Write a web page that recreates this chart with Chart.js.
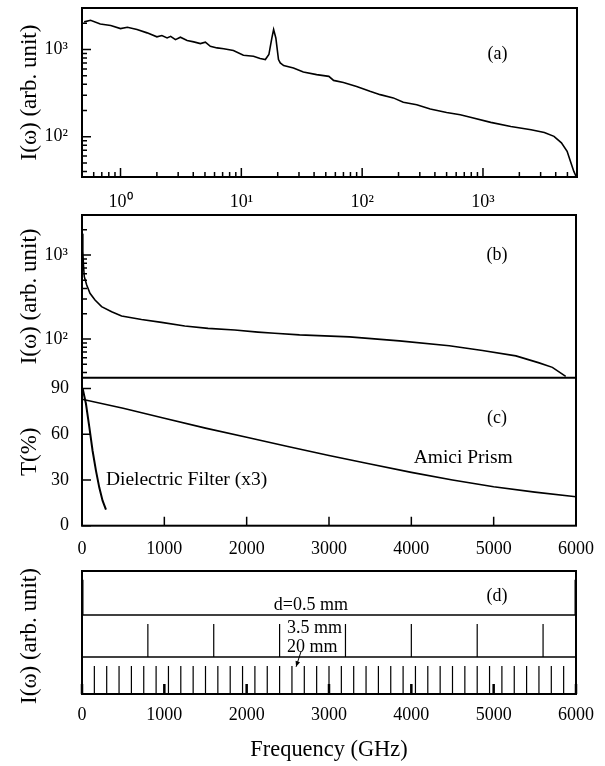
<!DOCTYPE html>
<html>
<head>
<meta charset="utf-8">
<script src="https://cdn.jsdelivr.net/npm/chart.js@4.4.1/dist/chart.umd.min.js"></script>
<style>
  body { margin: 0; background: #fff; }
  canvas { position: absolute; left: 0; }
</style>
</head>
<body>
<canvas id="chartA" width="605" height="212" style="top:0px"></canvas>
<canvas id="chartBC" width="605" height="365" style="top:205px"></canvas>
<canvas id="chartD" width="605" height="206" style="top:560px"></canvas>
<script>
// (a) spectrum, log-log, frequency in GHz
const aFreq = [0.5, 0.565, 0.68, 0.83, 1.0, 1.14, 1.37, 1.66, 2.0, 2.2, 2.43, 2.6, 2.85, 3.13, 3.56,
  4.04, 4.58, 5.04, 5.54, 6.3, 7.15, 8.6, 10.4, 12.6, 14.3, 15.8, 16.9, 17.9, 18.5, 19.3,
  20.3, 21.0, 22.4, 27, 32.6, 42, 53, 58, 70, 90, 116, 141, 181, 219, 283,
  366, 500, 648, 786, 1160, 1700, 2500, 3220, 3870, 4460, 4970, 5300, 5650, 5900];
const aInt = [2080, 2170, 1970, 1890, 1740, 1800, 1700, 1555, 1400, 1450, 1360, 1420, 1300, 1385, 1270,
  1225, 1170, 1215, 1090, 1045, 1020, 975, 860, 838, 788, 768, 877, 1360, 1700, 1360,
  768, 703, 655, 615, 553, 516, 493, 443, 420, 378, 332, 304, 279, 248, 233,
  208, 190, 179, 167, 146, 131, 120, 112, 101, 85, 68, 52, 40, 35];

// (b) spectrum, linear frequency
const bFreq = [5, 10, 18, 28, 57, 97, 158, 238, 360, 481, 723, 966, 1248, 1531, 1855, 2137, 2340,
  2642, 3248, 3855, 4461, 4864, 5270, 5552, 5713, 5875];
const bInt = [1800, 1100, 750, 552, 440, 350, 291, 243, 211, 188, 171, 158, 143, 134, 128, 121, 117,
  112, 106, 95, 83, 73, 63, 52, 46, 36];

// (c) transmission
const amiciFreq = [0, 500, 1000, 1500, 2000, 2500, 3000, 3500, 4000, 4500, 5000, 5500, 6000];
const amiciT = [83, 77, 70.5, 64, 58, 52, 46, 40.5, 35, 30, 25.5, 22, 19];
const filterFreq = [8, 48, 89, 129, 170, 210, 250, 291];
const filterT = [90, 80, 64.6, 49, 36, 25, 16.4, 10.5];

// (d) comb lines for each plate thickness
const comb05 = [0, 6000];
const comb35 = [0, 800, 1600, 2400, 3200, 4000, 4800, 5600];
const comb20 = [150, 300, 450, 600, 750, 900, 1050, 1200, 1350, 1500, 1650, 1800, 1950, 2100, 2250,
  2400, 2550, 2700, 2850, 3000, 3150, 3300, 3450, 3600, 3750, 3900, 4050, 4200, 4350, 4500,
  4650, 4800, 4950, 5100, 5250, 5400, 5550, 5700, 5850];
const combHeights = [1.0, 0.98, 0.95]; // 0.5 mm, 3.5 mm, 20 mm

const serif = '"Liberation Serif", "Times New Roman", serif';
Chart.defaults.font.family = serif;
Chart.defaults.font.size = 18;
Chart.defaults.color = '#000';

const sup = { '0': '⁰', '1': '¹', '2': '²', '3': '³', '4': '⁴' };
function decadeLabel(v) {
  const e = Math.log10(v);
  if (Math.abs(e - Math.round(e)) > 1e-6) return '';
  return '10' + String(Math.round(e)).split('').map(c => sup[c]).join('');
}
const plainLabel = v => String(v);

function pairs(xs, ys) {
  return xs.map((x, i) => ({ x: x, y: ys[i] }));
}

function spikes(xs, h) {
  const out = [];
  xs.forEach(x => {
    out.push({ x: x, y: 0 }, { x: x, y: h }, { x: x, y: null });
  });
  return out;
}

// fixed axis sizes so the plot areas line up between canvases
function fixY(s) {
  s.width = 82;
  s.paddingTop = 0;
  s.paddingBottom = 0;
}
function fixX(h) {
  return s => {
    s.height = h;
    s.paddingLeft = 0;
    s.paddingRight = 0;
  };
}

// frame, separators and inward tick marks
const framePlugin = {
  id: 'frame',
  afterDatasetsDraw(chart) {
    const { ctx, chartArea: a } = chart;
    ctx.save();
    ctx.strokeStyle = '#000';
    Object.values(chart.scales).forEach(s => {
      const t = s.options.inTicks;
      if (t) {
        ctx.lineWidth = t.width;
        ctx.beginPath();
        s.ticks.forEach(tk => {
          let len = t.major;
          if (s.type === 'logarithmic') {
            const e = Math.floor(Math.log10(tk.value) + 1e-9);
            const m = tk.value / Math.pow(10, e);
            if (Math.abs(m - Math.round(m)) > 1e-6) return;
            if (Math.round(m) !== 1) len = t.minor;
          }
          const p = s.getPixelForValue(tk.value);
          if (s.isHorizontal()) {
            ctx.moveTo(p, s.top);
            ctx.lineTo(p, s.top - len);
          } else {
            ctx.moveTo(s.right, p);
            ctx.lineTo(s.right + len, p);
          }
        });
        ctx.stroke();
      }
      if (s.options.sepTop) {
        ctx.lineWidth = s.options.sepTop;
        ctx.beginPath();
        ctx.moveTo(a.left, s.top);
        ctx.lineTo(a.right, s.top);
        ctx.stroke();
      }
    });
    ctx.lineWidth = 2;
    ctx.strokeRect(a.left, a.top, a.width, a.height);
    ctx.restore();
  }
};

// text labels and arrow placed in data coordinates
const notesPlugin = {
  id: 'notes',
  afterDatasetsDraw(chart, args, opts) {
    const { ctx } = chart;
    const xs = chart.scales.x;
    ctx.save();
    ctx.fillStyle = '#000';
    ctx.strokeStyle = '#000';
    ctx.textBaseline = 'middle';
    (opts.items || []).forEach(n => {
      const ys = chart.scales[n.axis || 'y'];
      if (n.to) {
        const x1 = xs.getPixelForValue(n.x), y1 = ys.getPixelForValue(n.y);
        const ys2 = chart.scales[n.to.axis];
        const x2 = xs.getPixelForValue(n.to.x), y2 = ys2.getPixelForValue(n.to.y);
        ctx.lineWidth = 1;
        ctx.beginPath();
        ctx.moveTo(x1, y1);
        ctx.lineTo(x2, y2);
        ctx.stroke();
        const ang = Math.atan2(y2 - y1, x2 - x1);
        ctx.beginPath();
        ctx.moveTo(x2, y2);
        ctx.lineTo(x2 - 6 * Math.cos(ang - 0.4), y2 - 6 * Math.sin(ang - 0.4));
        ctx.lineTo(x2 - 6 * Math.cos(ang + 0.4), y2 - 6 * Math.sin(ang + 0.4));
        ctx.closePath();
        ctx.fill();
        return;
      }
      ctx.font = (n.size || 19.5) + 'px ' + serif;
      ctx.textAlign = n.align || 'center';
      ctx.fillText(n.text, xs.getPixelForValue(n.x), ys.getPixelForValue(n.y));
    });
    ctx.restore();
  }
};

const lineStyle = { borderColor: '#000', borderWidth: 1.6, pointRadius: 0, fill: false };
const noGrid = { display: false, drawTicks: false };
const noBorder = { display: false };
const yTitle = text => ({ display: true, text: text, font: { size: 23 }, padding: { top: 16, bottom: 0 } });

// ---- (a)
new Chart(document.getElementById('chartA'), {
  type: 'line',
  data: { datasets: [Object.assign({ data: pairs(aFreq, aInt) }, lineStyle)] },
  options: {
    responsive: false, animation: false, events: [],
    layout: { padding: { top: 8, right: 28, left: 0, bottom: 0 } },
    plugins: {
      legend: { display: false }, tooltip: { enabled: false },
      notes: { items: [{ text: '(a)', x: 1320, y: 875, size: 18 }] }
    },
    scales: {
      x: {
        type: 'logarithmic', min: 0.48, max: 6000, grid: noGrid, border: noBorder,
        ticks: { autoSkip: false, maxRotation: 0, padding: 14, callback: decadeLabel },
        afterFit: fixX(35),
        inTicks: { major: 9, minor: 5, width: 1.5 }
      },
      y: {
        type: 'logarithmic', min: 34.5, max: 3000, grid: noGrid, border: noBorder,
        ticks: { autoSkip: false, padding: 14, callback: decadeLabel },
        title: yTitle('I(ω) (arb. unit)'),
        afterFit: fixY,
        inTicks: { major: 9, minor: 5, width: 1.5 }
      }
    }
  },
  plugins: [framePlugin, notesPlugin]
});

// ---- (b) and (c), sharing the frequency axis
new Chart(document.getElementById('chartBC'), {
  type: 'line',
  data: {
    datasets: [
      Object.assign({ data: pairs(bFreq, bInt), yAxisID: 'yB' }, lineStyle),
      Object.assign({ data: pairs(amiciFreq, amiciT), yAxisID: 'yC' }, lineStyle),
      Object.assign({ data: pairs(filterFreq, filterT), yAxisID: 'yC' }, lineStyle, { borderWidth: 2 })
    ]
  },
  options: {
    responsive: false, animation: false, events: [],
    layout: { padding: { top: 10, right: 29, left: 0, bottom: 0 } },
    plugins: {
      legend: { display: false }, tooltip: { enabled: false },
      notes: {
        items: [
          { text: '(b)', x: 5040, y: 1000, axis: 'yB', size: 18 },
          { text: '(c)', x: 5040, y: 70.5, axis: 'yC', size: 18 },
          { text: 'Amici Prism', x: 4630, y: 44.3, axis: 'yC' },
          { text: 'Dielectric Filter (x3)', x: 290, y: 30, axis: 'yC', align: 'left' }
        ]
      }
    },
    scales: {
      x: {
        type: 'linear', min: 0, max: 6000, grid: noGrid, border: noBorder,
        ticks: { stepSize: 1000, maxRotation: 0, padding: 12.5, includeBounds: false, callback: plainLabel },
        afterFit: fixX(44.3),
        inTicks: { major: 9, width: 1.5 }
      },
      yC: {
        type: 'linear', position: 'left', stack: 'bc', stackWeight: 148,
        min: 0, max: 97, grid: noGrid, border: noBorder,
        ticks: { stepSize: 30, padding: 13, includeBounds: false },
        title: yTitle('T(%)'),
        afterFit: fixY,
        inTicks: { major: 9, width: 1.5 },
        sepTop: 2
      },
      yB: {
        type: 'logarithmic', position: 'left', stack: 'bc', stackWeight: 163,
        min: 34.5, max: 3000, grid: noGrid, border: noBorder,
        ticks: { autoSkip: false, padding: 14, callback: decadeLabel },
        title: yTitle('I(ω) (arb. unit)'),
        afterFit: fixY,
        inTicks: { major: 9, minor: 5, width: 1.5 }
      }
    }
  },
  plugins: [framePlugin, notesPlugin]
});

// ---- (d) comb spectra for three plate thicknesses
const bandAxis = (weight, extra) => Object.assign({
  type: 'linear', position: 'left', stack: 'd', stackWeight: weight,
  min: 0, max: 1.25, grid: noGrid, border: noBorder,
  ticks: { display: false },
  afterFit: fixY
}, extra);

new Chart(document.getElementById('chartD'), {
  type: 'line',
  data: {
    datasets: [
      Object.assign({}, lineStyle, { data: spikes(comb05, combHeights[0]), yAxisID: 'yTop', borderWidth: 3, spanGaps: false }),
      Object.assign({}, lineStyle, { data: spikes(comb35, combHeights[1]), yAxisID: 'yMid', borderWidth: 1.2, spanGaps: false }),
      Object.assign({}, lineStyle, { data: spikes(comb20, combHeights[2]), yAxisID: 'yBot', borderWidth: 1.2, spanGaps: false })
    ]
  },
  options: {
    responsive: false, animation: false, events: [],
    layout: { padding: { top: 11, right: 29, left: 0, bottom: 0 } },
    plugins: {
      legend: { display: false }, tooltip: { enabled: false },
      notes: {
        items: [
          { text: '(d)', x: 5040, y: 0.54, axis: 'yTop', size: 18 },
          { text: 'd=0.5 mm', x: 2780, y: 0.28, axis: 'yTop', size: 18 },
          { text: '3.5 mm', x: 2490, y: 0.87, axis: 'yMid', align: 'left', size: 18 },
          { text: '20 mm', x: 2490, y: 0.30, axis: 'yMid', align: 'left', size: 18 },
          { x: 2660, y: 0.16, axis: 'yMid', to: { x: 2600, y: 0.92, axis: 'yBot' } }
        ]
      }
    },
    scales: {
      x: {
        type: 'linear', min: 0, max: 6000, grid: noGrid, border: noBorder,
        ticks: { stepSize: 1000, maxRotation: 0, padding: 10.2, includeBounds: false, callback: plainLabel },
        title: { display: true, text: 'Frequency (GHz)', font: { size: 22.4 }, padding: { top: 0, bottom: 2.6 } },
        afterFit: fixX(72),
        inTicks: { major: 10, width: 2.5 }
      },
      yBot: bandAxis(37, { sepTop: 1.5 }),
      yMid: bandAxis(42, { sepTop: 1.5, title: yTitle('I(ω) (arb. unit)') }),
      yTop: bandAxis(44, {})
    }
  },
  plugins: [framePlugin, notesPlugin]
});
</script>
</body>
</html>
